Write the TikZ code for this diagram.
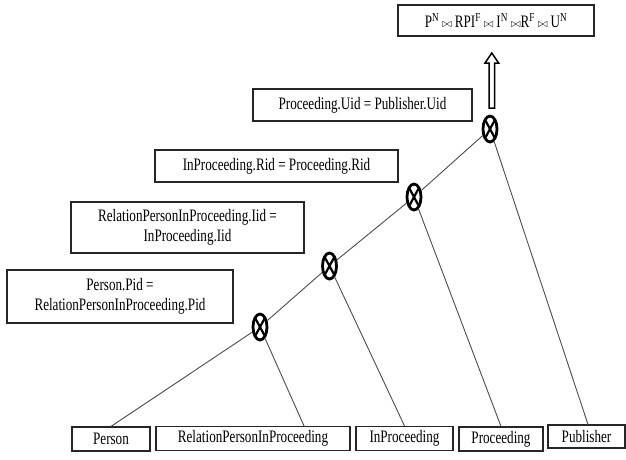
\documentclass[tikz,border=0pt]{standalone}
\usepackage{fontspec}
\setmainfont{Liberation Serif}[FakeStretch=0.75]
\usetikzlibrary{shapes.geometric,calc}
\newcommand{\jn}{{\fontsize{13}{13}\selectfont$\bowtie$}}
\begin{document}
\begin{tikzpicture}[x=1pt,y=-1pt,
  every node/.style={font=\fontsize{17.5}{20.5}\selectfont},
  box/.style={draw=black!85,line width=1.2pt,inner sep=0pt,align=center},
  joinop/.style={ellipse,draw=black,line width=2.8pt,minimum width=14pt,minimum height=26pt,inner sep=0pt,
    path picture={\draw[line width=2.2pt]
      (path picture bounding box.north west) -- (path picture bounding box.south east)
      (path picture bounding box.south west) -- (path picture bounding box.north east);}},
  link/.style={draw=black!70,line width=0.9pt},
  hollowarrow/.style={draw=black,line width=1.5pt,fill=white}]
\useasboundingbox (0,0) rectangle (626,459);

% result of the joins
\node[box,minimum width=196pt,minimum height=31pt] (res) at (496,20.5)
  {P\textsuperscript{N}\,\jn\,RPI\textsuperscript{F}\,\jn\,I\textsuperscript{N}\,\jn R\textsuperscript{F}\,\jn\,U\textsuperscript{N}};

% join conditions
\node[box,minimum width=219pt,minimum height=32pt] (c4) at (362.5,105) {Proceeding.Uid = Publisher.Uid};
\node[box,minimum width=243pt,minimum height=32pt] (c3) at (276.5,166) {InProceeding.Rid = Proceeding.Rid};
\node[box,minimum width=233pt,minimum height=51pt] (c2) at (187.5,227.5) {RelationPersonInProceeding.Iid =\\InProceeding.Iid};
\node[box,minimum width=226pt,minimum height=53pt] (c1) at (120,296.5) {Person.Pid =\\RelationPersonInProceeding.Pid};

% relations
\node[box,minimum width=78pt,minimum height=24pt] (person) at (111,439) {Person};
\node[box,minimum width=194pt,minimum height=24pt] (rpip) at (253,438.5) {RelationPersonInProceeding};
\node[box,minimum width=97pt,minimum height=24pt] (inproc) at (404.5,438.5) {InProceeding};
\node[box,minimum width=84pt,minimum height=24pt] (proc) at (501,439) {Proceeding};
\node[box,minimum width=77pt,minimum height=23pt] (pub) at (586.5,436.5) {Publisher};

% join operators
\node[joinop] (j1) at (260,327) {};
\node[joinop] (j2) at (329.5,266) {};
\node[joinop] (j3) at (414,197) {};
\node[joinop] (j4) at (490,129) {};

% join tree
\draw[link] (person.north) -- (j1);
\draw[link] (j1) -- (j2);
\draw[link] (j2) -- (j3);
\draw[link] (j3) -- (j4);
\draw[link] (j1) -- ([xshift=51pt]rpip.north);
\draw[link] (j2) -- (inproc.north);
\draw[link] (j3) -- (proc.north);
\draw[link] (j4) -- ([xshift=1.5pt]pub.north);

% hollow arrow up to the result
\draw[hollowarrow]
  ($(j4)+(-1,-21)$) -- ($(j4)+(-1,-66)$) -- ($(j4)+(-5,-66)$) -- ($(j4)+(1.8,-76)$)
  -- ($(j4)+(8.6,-66)$) -- ($(j4)+(4.6,-66)$) -- ($(j4)+(4.6,-21)$) -- cycle;
\end{tikzpicture}
\end{document}
